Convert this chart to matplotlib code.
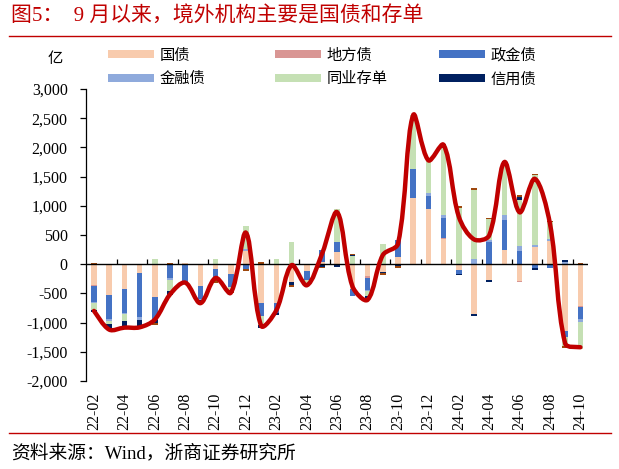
import numpy as np
import matplotlib
matplotlib.use("Agg")
import matplotlib.pyplot as plt
from matplotlib.patches import Patch, PathPatch
from matplotlib.path import Path
from matplotlib.ticker import FuncFormatter

plt.rcParams['font.family'] = ['Noto Sans CJK SC', 'DejaVu Sans']

# ---------------- data (亿元) ----------------
months = ["22-02", "22-03", "22-04", "22-05", "22-06", "22-07", "22-08", "22-09", "22-10", "22-11", "22-12",
          "23-01", "23-02", "23-03", "23-04", "23-05", "23-06", "23-07", "23-08", "23-09", "23-10", "23-11", "23-12",
          "24-01", "24-02", "24-03", "24-04", "24-05", "24-06", "24-07", "24-08", "24-09", "24-10"]

gov_bond = [-350, -533, -430, -155, -568, -10, 15, -373, -75, -160, 229,
            -670, -670, -304, -120, 40, 212, -430, -206, -130, 115, 1141, 946,
            436, -103, -849, -270, 246, -287, 298, 401, -1147, -717]
local_bond = [-20, 0, 0, 0, 0, 0, 0, 0, 0, -10, 0,
              0, 0, 0, 0, 0, 0, 0, -23, 0, 0, -10, -10,
              17, 0, 0, 0, 0, -17, 0, 0, 0, -23]
policy_bond = [-275, -400, -413, -757, -396, -230, -300, -218, -172, -218, -86,
               -224, -172, 0, -155, 200, 172, -120, -218, 0, 298, 493, 229,
               344, -57, 0, 378, 516, 229, -57, -57, -98, -206]
financial_bond = [-20, -45, -17, -52, 0, -34, 0, -30, 0, 0, 23,
                  0, 0, 0, 0, 0, 0, 0, -20, 0, 0, 0, 40,
                  46, 0, 86, 29, 86, 75, 34, 29, 40, -46]
ncd = [-120, -50, -120, 0, 86, -190, -30, 0, 86, -57, 407,
       -155, 86, 373, -86, 0, 560, 143, -86, 344, 0, 929, 573,
       1198, 969, 1193, 373, 877, 803, 1198, 287, -160, -453]
credit_bond = [-35, -92, -86, -92, -35, -69, 0, -46, 0, -29, 0,
               -40, -20, -57, 0, -46, -40, 15, -30, -29, -29, 0, 0,
               -15, -23, -34, -34, 34, 52, -34, 0, 34, 0]
other = [20, 0, -20, -25, -35, 15, 0, 0, -75, -15, -34,
         34, -10, -29, 0, -17, -15, 15, -27, -29, -34, 0, 0,
         17, 29, 29, 17, -10, 34, 23, 29, -29, 23]

series_names = ["国债", "地方债", "政金债", "金融债", "同业存单", "信用债", "其他"]
series_vals = [gov_bond, local_bond, policy_bond, financial_bond, ncd, credit_bond, other]
series_colors = ["#F8CBAD", "#D99694", "#4472C4", "#8FAADC", "#C5E0B4", "#002060", "#9E480E"]

# ---------------- figure ----------------
W, H = 619, 469
fig = plt.figure(figsize=(W / 100, H / 100), dpi=100)

def fx(px):
    return px / W

def fy(py):
    return 1 - py / H

ax_l, ax_r, ax_t, ax_b = 86.4, 588, 89, 381
ax = fig.add_axes([fx(ax_l), fy(ax_b), fx(ax_r - ax_l), (ax_b - ax_t) / H])

x = np.arange(len(months))
pos = np.zeros(len(months))
neg = np.zeros(len(months))
for name, vals, col in zip(series_names, series_vals, series_colors):
    v = np.array(vals, dtype=float)
    bottom = np.where(v >= 0, pos, neg)
    ax.bar(x, v, bottom=bottom, width=0.38, color=col, linewidth=0, zorder=2)
    pos += np.clip(v, 0, None)
    neg += np.clip(v, None, 0)

total = np.sum(np.array(series_vals, dtype=float), axis=0)

ax.set_xlim(-0.5, 32.5)
ax.set_ylim(-2000, 3000)

# smoothed line (Excel-style Bezier through the monthly totals,
# control points scaled by neighbouring segment lengths in screen space)
sx = (ax_r - ax_l) / 33.0
sy = (ax_b - ax_t) / 5000.0
P = np.column_stack([x * sx, total * sy])
n = len(P)
verts = [(x[0], total[0])]
codes = [Path.MOVETO]
for i in range(n - 1):
    p0 = P[i - 1] if i > 0 else P[i]
    p1 = P[i]
    p2 = P[i + 1]
    p3 = P[i + 2] if i + 2 < n else P[i + 1]
    d01 = np.linalg.norm(p1 - p0)
    d12 = np.linalg.norm(p2 - p1)
    d23 = np.linalg.norm(p3 - p2)
    f1 = d12 / (d01 + d12) / 3.0 if d01 > 0 else 1 / 6.0
    f2 = d12 / (d12 + d23) / 3.0 if d23 > 0 else 1 / 6.0
    c1 = p1 + (p2 - p0) * f1
    c2 = p2 - (p3 - p1) * f2
    for c in (c1, c2, p2):
        verts.append((c[0] / sx, c[1] / sy))
    codes += [Path.CURVE4] * 3
ax.add_patch(PathPatch(Path(verts, codes), facecolor='none', edgecolor='#C00000',
                       linewidth=3.2, capstyle='round', joinstyle='round', zorder=6))

for s in ['top', 'right', 'bottom']:
    ax.spines[s].set_visible(False)
ax.spines['left'].set_color('black')
ax.spines['left'].set_linewidth(0.9)

ax.axhline(0, color='black', linewidth=1.0, zorder=4)

serif = ['Liberation Serif', 'Noto Sans CJK SC']
ax.set_yticks(np.arange(-2000, 3001, 500))
ax.yaxis.set_major_formatter(FuncFormatter(lambda v, p: f"{v:,.0f}"))
ax.tick_params(axis='y', direction='out', length=4.5, width=0.9, pad=9, labelsize=11.5)
for lab in ax.get_yticklabels():
    lab.set_fontfamily(serif)

ax.set_xticks(x[::2])
ax.set_xticklabels(months[::2], rotation=90, fontsize=11.5, family=serif)
ax.tick_params(axis='x', length=0, pad=8.5)

# tick marks sitting on the zero line, between every other category
sec = ax.secondary_xaxis(0.4)
sec.set_xticks(np.arange(1.5, 32, 2))
sec.tick_params(axis='x', direction='in', length=3.5, width=0.9, labelbottom=False, colors='black')
sec.spines['bottom'].set_visible(False)

# ---------------- legend ----------------
handles = [Patch(facecolor=c, edgecolor='none') for c in series_colors[:6]]
cols = [(0, 3), (1, 4), (2, 5)]
col_x = [108, 275, 439]
for (a, b), cx in zip(cols, col_x):
    fig.legend([handles[a], handles[b]], [series_names[a], series_names[b]],
               loc='center left', bbox_to_anchor=(fx(cx), fy(67)),
               frameon=False, fontsize=11, handlelength=3.0, handleheight=0.46,
               handletextpad=0.35, labelspacing=0.45, borderpad=0, borderaxespad=0)

fig.text(fx(55), fy(58), "亿", fontsize=11, ha='center', va='center')

# ---------------- title / source ----------------
fig.text(fx(11), fy(16), "图5：  9 月以来，境外机构主要是国债和存单", fontsize=15,
         color='#C00000', ha='left', va='center', family=serif)
fig.add_artist(plt.Line2D([fx(9), fx(611)], [fy(35.7), fy(35.7)], color='#C00000', linewidth=1.0))
fig.add_artist(plt.Line2D([fx(9), fx(611)], [fy(433), fy(433)], color='#C00000', linewidth=1.0))
fig.text(fx(11), fy(453), "资料来源：Wind，浙商证券研究所", fontsize=13.5, color='black',
         ha='left', va='center', family=serif)

fig.savefig("out.png", dpi=100)
